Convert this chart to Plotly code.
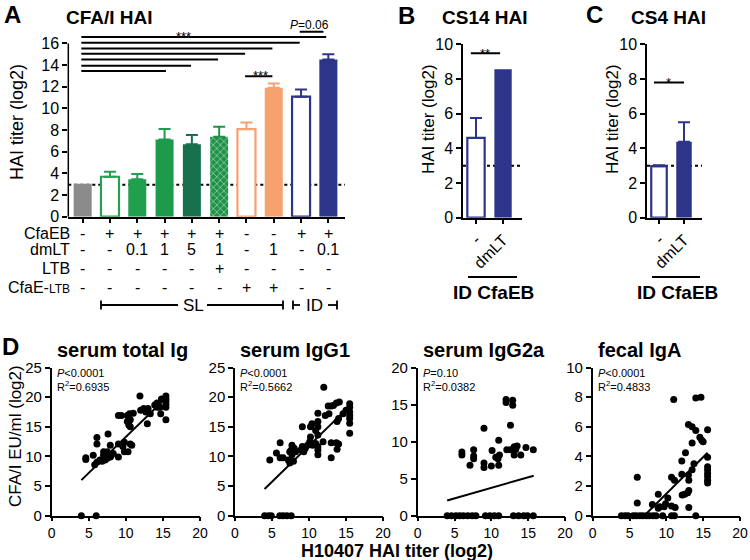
import plotly.graph_objects as go

W, H = 750, 560
FONT = "Liberation Sans, Arial, Helvetica, sans-serif"
BLACK = "black"


def fx(p):
    return p / W


def fy(p):
    return 1 - p / H


# ---------------- Panel A data ----------------
a_groups = list(range(10))
a_values = [3.05, 3.69, 3.45, 7.14, 6.70, 7.38, 8.09, 11.90, 11.08, 14.52]
a_errors = [0.0, 0.46, 0.49, 0.95, 0.84, 0.92, 0.61, 0.40, 0.67, 0.48]
a_colors = ["#8b8b8b", "#27a04f", "#20a04e", "#1d9a4b", "#17714f", "#1f9349",
            "#f5a26e", "#f5a26e", "#2c3589", "#2c3589"]
a_open = [False, True, False, False, False, False, True, False, True, False]
a_pattern = ["", "", "", "", "", "x", "", "", "", ""]
a_detect_limit = 2.95

row_labels = ["CfaEB", "dmLT", "LTB", "CfaE-<span style='font-size:12px'>LTB</span>"]
row_cfaeb = ["-", "+", "+", "+", "+", "+", "-", "-", "+", "+"]
row_dmlt = ["-", "-", "0.1", "1", "5", "1", "-", "1", "-", "0.1"]
row_ltb = ["-", "-", "-", "-", "-", "+", "-", "-", "-", "-"]
row_cfae_ltb = ["-", "-", "-", "-", "-", "-", "+", "+", "-", "-"]

sig_start = -0.05
sig_ends = [8.92, 7.95, 6.95, 5.95, 4.96, 3.97, 3.05]
sig_levels = [16.60, 16.06, 15.54, 15.05, 14.52, 13.94, 13.45]
sig_short = ([5.95, 6.95], 12.98)
sig_p = ([7.95, 8.82], 17.08)

# ---------------- Panel B / C data ----------------
bc_labels = ["-", "dmLT"]
b_values = [4.60, 8.56]
b_errors = [1.15, 0.0]
c_values = [2.97, 4.38]
c_errors = [0.06, 1.12]
bc_open = [True, False]
bc_color = "#2c3589"
b_sig = ([-0.19, 0.89], 9.48)
c_sig = ([-0.20, 1.00], 7.80)

# ---------------- Panel D data ----------------
d1_pts = [(4.0, 0), (6.0, 0),
          (4.6, 9.8), (4.6, 9.5), (5.6, 10.2), (5.8, 8.6), (6.1, 9.0), (6.5, 9.4), (6.1, 13.2), (6.1, 12.1),
          (7.0, 10.8), (7.5, 10.8), (7.0, 10.2), (7.7, 10.2), (7.9, 9.9), (7.5, 9.7), (7.2, 9.4), (6.8, 9.2),
          (7.6, 13.8), (7.9, 11.9), (8.3, 10.5), (8.0, 10.1),
          (9.0, 12.1), (9.0, 9.9), (9.8, 12.4), (9.6, 11.7), (9.8, 10.8), (10.3, 10.8), (10.6, 12.1), (10.8, 11.9),
          (9.0, 16.9), (9.4, 16.9), (10.2, 16.9), (10.5, 17.2), (10.6, 16.2), (10.2, 15.9), (10.4, 15.3),
          (10.6, 15.0), (11.0, 17.3),
          (11.9, 20.2), (12.0, 17.8), (12.4, 18.1), (12.7, 17.5), (13.0, 18.1), (13.3, 17.2), (12.9, 15.5),
          (13.9, 18.7), (14.2, 19.0), (14.6, 18.3), (14.2, 18.3), (14.7, 17.2), (14.8, 19.7),
          (15.4, 20.2), (15.4, 19.7), (15.4, 19.3), (15.4, 18.8), (15.4, 18.3), (15.4, 16.2)]
d1_fit_x = [4.0, 15.2]
d1_fit_y = [6.0, 19.6]

d2_pts = [(4.0, 0), (4.5, 0), (4.9, 0), (6.05, 0), (6.5, 0), (7.0, 0), (7.6, 0),
          (12.0, 21.7),
          (12.6, 18.5), (13.0, 18.5), (13.7, 19.0), (14.1, 19.2), (13.3, 18.6),
          (15.5, 18.9), (15.5, 18.3), (15.5, 17.5), (15.5, 16.9), (15.5, 16.4), (15.5, 15.6), (15.5, 13.9),
          (15.0, 17.8), (14.6, 17.2), (14.0, 16.4), (13.8, 15.9),
          (12.7, 17.2), (12.2, 16.9), (11.2, 17.3),
          (11.2, 15.9), (11.2, 15.0), (10.4, 15.5), (10.2, 15.0), (9.1, 15.0),
          (10.9, 14.4), (11.2, 13.6),
          (10.2, 13.3), (10.1, 12.5), (10.5, 11.9), (9.8, 11.9),
          (10.9, 12.2), (11.2, 11.7), (11.2, 11.1), (11.2, 10.3),
          (11.9, 12.5), (13.0, 12.3), (13.7, 12.3), (14.0, 12.1),
          (13.0, 9.8), (13.8, 11.2),
          (9.1, 11.7), (9.5, 11.4), (9.3, 10.8), (8.9, 11.1),
          (7.7, 11.9), (8.0, 11.4), (7.6, 11.1), (8.2, 10.8), (7.4, 10.8), (7.7, 10.3),
          (6.1, 12.3),
          (5.6, 10.6), (6.1, 9.8), (6.5, 9.8), (7.2, 9.4), (7.9, 9.2), (7.4, 8.9), (4.7, 9.4)]
d2_fit_x = [4.0, 15.0]
d2_fit_y = [4.5, 17.9]

d3_pts = [(4.0, 0), (4.6, 0), (5.2, 0), (5.7, 0), (6.2, 0), (6.8, 0), (7.4, 0), (7.9, 0), (9.2, 0),
          (9.8, 0), (10.4, 0), (11.0, 0), (13.0, 0), (13.7, 0), (14.4, 0), (14.9, 0), (15.7, 0),
          (12.0, 15.7), (12.0, 15.3), (12.9, 15.6), (12.9, 14.9), (12.6, 12.2), (9.0, 11.8), (11.0, 10.2),
          (6.0, 8.6), (6.0, 8.2), (7.6, 8.9), (7.6, 8.05), (7.6, 7.7), (7.1, 6.8), (9.0, 7.1), (9.0, 6.5),
          (10.0, 6.7),
          (10.1, 8.8), (10.6, 7.9), (10.9, 7.7), (11.1, 8.2), (11.0, 6.8), (12.1, 8.9),
          (12.6, 8.9), (13.1, 9.3), (13.5, 9.4), (13.3, 8.95), (14.0, 8.2), (13.1, 8.2), (14.7, 9.2),
          (15.7, 8.9)]
d3_fit_x = [4.0, 15.75]
d3_fit_y = [2.05, 5.4]

d4_pts = [(3.9, 0), (4.4, 0), (4.8, 0), (5.5, 0), (5.9, 0), (6.4, 0), (6.8, 0), (7.3, 0), (7.7, 0),
          (8.2, 0), (8.6, 0), (9.5, 0), (10.7, 0), (11.1, 0), (14.0, 0),
          (11.0, 7.85), (14.0, 7.95), (14.7, 8.0),
          (13.0, 6.15), (13.5, 6.0), (14.0, 5.75), (15.6, 5.8),
          (14.55, 5.3), (14.8, 5.1), (15.0, 5.0), (13.5, 4.9), (12.6, 4.25), (15.6, 3.95), (12.1, 3.7),
          (13.75, 3.5),
          (15.6, 3.3), (15.6, 3.1), (15.6, 2.85), (15.6, 2.65), (15.6, 2.4), (15.6, 2.2),
          (13.5, 3.1), (13.0, 2.75), (13.05, 2.4), (12.1, 2.8), (10.7, 2.6), (11.1, 2.4), (6.05, 2.6),
          (12.15, 1.4), (12.5, 1.45), (12.9, 1.55), (13.05, 1.7),
          (6.05, 0.85), (8.1, 0.75), (9.1, 0.6), (9.7, 0.6), (8.9, 0.5), (10.7, 0.65), (11.2, 0.55),
          (9.9, 0.8), (10.2, 1.2), (13.05, 0.55), (8.9, 1.45)]
d4_fit_x = [7.0, 15.6]
d4_fit_y = [0.0, 4.25]

d_titles = ["serum total Ig", "serum IgG1", "serum IgG2a", "fecal IgA"]
d_pvals = ["<i>P</i>&lt;0.0001", "<i>P</i>&lt;0.0001", "<i>P</i>=0.10", "<i>P</i>&lt;0.0001"]
d_r2 = ["R<sup>2</sup>=0.6935", "R<sup>2</sup>=0.5662", "R<sup>2</sup>=0.0382", "R<sup>2</sup>=0.4833"]
d_ymax = [25, 25, 20, 10]
d_ydtick = [5, 5, 5, 2]
d_xticks = [0, 5, 10, 15, 20]

# ---------------- layout geometry (pixels) ----------------
A_X0, A_X1 = 68.3, 345.0
A_XR = [-0.527, 9.61]
A_Y0, A_SCALE, A_YMAX = 216.7, 10.83, 17.4
A_TOP = A_Y0 - A_YMAX * A_SCALE

B_X0, B_X1, B_XR = 463.0, 522.0, [-0.48, 1.70]
C_X0, C_X1, C_XR = 647.0, 702.0, [-0.48, 1.72]
BC_Y0, BC_Y1 = 217.7, 44.3

D_XD = [(51.7, 200.0), (235.0, 383.0), (417.7, 565.0), (592.7, 740.0)]
D_Y0, D_Y1 = 515.7, 367.5

fig = go.Figure()

# ---------- Panel A ----------
for i in a_groups:
    col = a_colors[i]
    marker = dict(color="white" if a_open[i] else col,
                  line=dict(color=col, width=2.2 if a_open[i] else 0))
    if a_pattern[i]:
        marker["pattern"] = dict(shape=a_pattern[i], fgcolor="white", bgcolor=col,
                                 size=5, solidity=0.3, fillmode="overlay")
    fig.add_trace(go.Bar(
        x=[a_groups[i]], y=[a_values[i]], width=0.66, marker=marker,
        error_y=dict(type="data", symmetric=False, array=[a_errors[i]], arrayminus=[0],
                     color=col, thickness=2, width=6, visible=a_errors[i] > 0),
        xaxis="x", yaxis="y", showlegend=False, hoverinfo="skip"))

for end, lvl in zip(sig_ends, sig_levels):
    fig.add_trace(go.Scatter(x=[sig_start, end], y=[lvl, lvl], mode="lines",
                             line=dict(color=BLACK, width=2), xaxis="x", yaxis="y",
                             showlegend=False, hoverinfo="skip"))
for xs, lvl in [sig_short, sig_p]:
    fig.add_trace(go.Scatter(x=xs, y=[lvl, lvl], mode="lines",
                             line=dict(color=BLACK, width=2), xaxis="x", yaxis="y",
                             showlegend=False, hoverinfo="skip"))

# ---------- Panels B and C ----------
for vals, errs, xa, ya, bw in [(b_values, b_errors, "x2", "y2", 0.64), (c_values, c_errors, "x3", "y3", 0.62)]:
    for i in range(2):
        marker = dict(color="white" if bc_open[i] else bc_color,
                      line=dict(color=bc_color, width=2.2 if bc_open[i] else 0))
        fig.add_trace(go.Bar(
            x=[i], y=[vals[i]], width=bw, marker=marker,
            error_y=dict(type="data", symmetric=False, array=[errs[i]], arrayminus=[0],
                         color=bc_color, thickness=2, width=6, visible=errs[i] > 0),
            xaxis=xa, yaxis=ya, showlegend=False, hoverinfo="skip"))

for (xs, lvl), xa, ya in [(b_sig, "x2", "y2"), (c_sig, "x3", "y3")]:
    fig.add_trace(go.Scatter(x=xs, y=[lvl, lvl], mode="lines", line=dict(color=BLACK, width=2),
                             xaxis=xa, yaxis=ya, showlegend=False, hoverinfo="skip"))

# ---------- Panel D ----------
d_pts = [d1_pts, d2_pts, d3_pts, d4_pts]
d_fit = [(d1_fit_x, d1_fit_y), (d2_fit_x, d2_fit_y), (d3_fit_x, d3_fit_y), (d4_fit_x, d4_fit_y)]
for k in range(4):
    xa, ya = "x%d" % (k + 4), "y%d" % (k + 4)
    fig.add_trace(go.Scatter(x=[p[0] for p in d_pts[k]], y=[p[1] for p in d_pts[k]], mode="markers",
                             marker=dict(color=BLACK, size=7), cliponaxis=False,
                             xaxis=xa, yaxis=ya, showlegend=False, hoverinfo="skip"))
    fig.add_trace(go.Scatter(x=d_fit[k][0], y=d_fit[k][1], mode="lines",
                             line=dict(color=BLACK, width=2),
                             xaxis=xa, yaxis=ya, showlegend=False, hoverinfo="skip"))

# ---------- axes ----------
common = dict(showgrid=False, zeroline=False, ticks="outside", ticklen=5, tickwidth=1.5,
              tickcolor=BLACK, linecolor=BLACK, linewidth=1.5, automargin=False,
              tickfont=dict(family=FONT, size=16, color=BLACK), fixedrange=True)

layout_axes = {}
layout_axes["xaxis"] = dict(common, domain=[fx(A_X0), fx(A_X1)], range=A_XR, tickvals=a_groups,
                            showticklabels=False, showline=True, anchor="y")
layout_axes["yaxis"] = dict(common, domain=[fy(A_Y0), fy(A_TOP)], range=[0, A_YMAX],
                            tickvals=list(range(0, 17, 2)), showline=False, anchor="x")
layout_axes["xaxis2"] = dict(common, domain=[fx(B_X0), fx(B_X1)], range=B_XR, tickvals=[0, 1],
                             ticktext=bc_labels, tickangle=-45, showline=True, anchor="y2")
layout_axes["yaxis2"] = dict(common, domain=[fy(BC_Y0), fy(BC_Y1)], range=[0, 10.001],
                             tickvals=[0, 2, 4, 6, 8, 10], showline=True, anchor="x2")
layout_axes["xaxis3"] = dict(common, domain=[fx(C_X0), fx(C_X1)], range=C_XR, tickvals=[0, 1],
                             ticktext=bc_labels, tickangle=-45, showline=True, anchor="y3")
layout_axes["yaxis3"] = dict(common, domain=[fy(BC_Y0), fy(BC_Y1)], range=[0, 10.001],
                             tickvals=[0, 2, 4, 6, 8, 10], showline=True, anchor="x3")
for k in range(4):
    layout_axes["xaxis%d" % (k + 4)] = dict(common, domain=[fx(D_XD[k][0]), fx(D_XD[k][1])],
                                            range=[0, 20.001], tickvals=d_xticks, showline=True,
                                            ticklen=4, tickfont=dict(family=FONT, size=14, color=BLACK),
                                            anchor="y%d" % (k + 4))
    layout_axes["yaxis%d" % (k + 4)] = dict(common, domain=[fy(D_Y0), fy(D_Y1)],
                                            range=[0, d_ymax[k] * 1.0005],
                                            tickvals=list(range(0, d_ymax[k] + 1, d_ydtick[k])),
                                            tickfont=dict(family=FONT, size=15, color=BLACK),
                                            showline=True, anchor="x%d" % (k + 4))

# ---------- shapes ----------
shapes = []


def pline(x0, y0, x1, y1, w=1.8):
    shapes.append(dict(type="line", xref="paper", yref="paper", x0=fx(x0), y0=fy(y0),
                       x1=fx(x1), y1=fy(y1), line=dict(color=BLACK, width=w)))


# panel A y axis line (stops at 16)
pline(A_X0, A_Y0, A_X0, A_Y0 - 16 * A_SCALE, 1.5)
# SL / ID brackets
pline(101, 305, 178, 305)
pline(207, 305, 283, 305)
pline(101, 300.5, 101, 309.5)
pline(283, 300.5, 283, 309.5)
pline(293, 305, 300, 305)
pline(328, 305, 337, 305)
pline(293, 300.5, 293, 309.5)
pline(337, 300.5, 337, 309.5)
# ID CfaEB lines
pline(468, 277, 517, 277)
pline(652, 277, 700, 277)

# detection-limit dotted lines
for xa, ya, xr, lvl in [("x", "y", A_XR, a_detect_limit), ("x2", "y2", B_XR, 3.0), ("x3", "y3", C_XR, 3.0)]:
    shapes.append(dict(type="line", xref=xa, yref=ya, x0=xr[0], x1=xr[1], y0=lvl, y1=lvl,
                       layer="below", line=dict(color=BLACK, width=2, dash="dot")))

# ---------- annotations ----------
ann = []


def text(x, y, s, size=15, bold=False, xanchor="center", yanchor="middle", angle=0, xref="paper"):
    ann.append(dict(x=x if xref != "paper" else fx(x), y=fy(y), xref=xref, yref="paper", text=s,
                    showarrow=False, xanchor=xanchor, yanchor=yanchor, textangle=angle,
                    font=dict(family=FONT, size=size, color=BLACK,
                              weight="bold" if bold else "normal")))


# Panel letters and titles
text(2, 14, "A", 24, True, xanchor="left")
text(64, 17, "CFA/I HAI", 19, True, xanchor="left")
text(396, 15, "B", 24, True, xanchor="left")
text(485, 17, "CS14 HAI", 19, True)
text(584, 14, "C", 24, True, xanchor="left")
text(668, 17, "CS4 HAI", 19, True)
text(0, 346, "D", 24, True, xanchor="left")

# axis titles
text(17, 122, "HAI titer (log2)", 18, angle=-90)
text(428, 119, "HAI titer (log2)", 17, angle=-90)
text(612, 119, "HAI titer (log2)", 17, angle=-90)
text(15, 436, "CFA/I EU/ml (log2)", 17, angle=-90)
text(397, 550.5, "H10407 HAI titer (log2)", 18, True)

# significance labels
text(183, 36, "***", 13)
text(260, 76, "***", 13)
text(309, 25, "<i>P</i>=0.06", 12)
text(485, 53, "**", 13)
text(668, 82, "*", 13)

# panel A condition table
row_y = [233, 250, 268, 287]
rows = [row_cfaeb, row_dmlt, row_ltb, row_cfae_ltb]
for r in range(4):
    text(72, row_y[r], row_labels[r], 16, xanchor="right")
    for i in a_groups:
        text(a_groups[i], row_y[r], rows[r][i], 16, xref="x")
text(193, 305, "SL", 17)
text(314, 305, "ID", 17)

# ID CfaEB labels
text(493, 292, "ID CfaEB", 19, True)
text(677, 292, "ID CfaEB", 19, True)

# panel D titles and stats
for k in range(4):
    left = D_XD[k][0]
    text(left + 3, 350, d_titles[k], 20, True, xanchor="left")
    text(left + 3, 373, d_pvals[k], 11, xanchor="left")
    text(left + 3, 386, d_r2[k], 11, xanchor="left")

fig.update_layout(
    width=W, height=H, margin=dict(l=0, r=0, t=0, b=0, autoexpand=False),
    paper_bgcolor="white", plot_bgcolor="white",
    barmode="overlay", showlegend=False,
    font=dict(family=FONT, color=BLACK),
    shapes=shapes, annotations=ann,
    **layout_axes,
)

fig.write_html("out.html", config={"displayModeBar": False},
               post_script="document.body.style.margin='0px';document.body.style.overflow='hidden';")
